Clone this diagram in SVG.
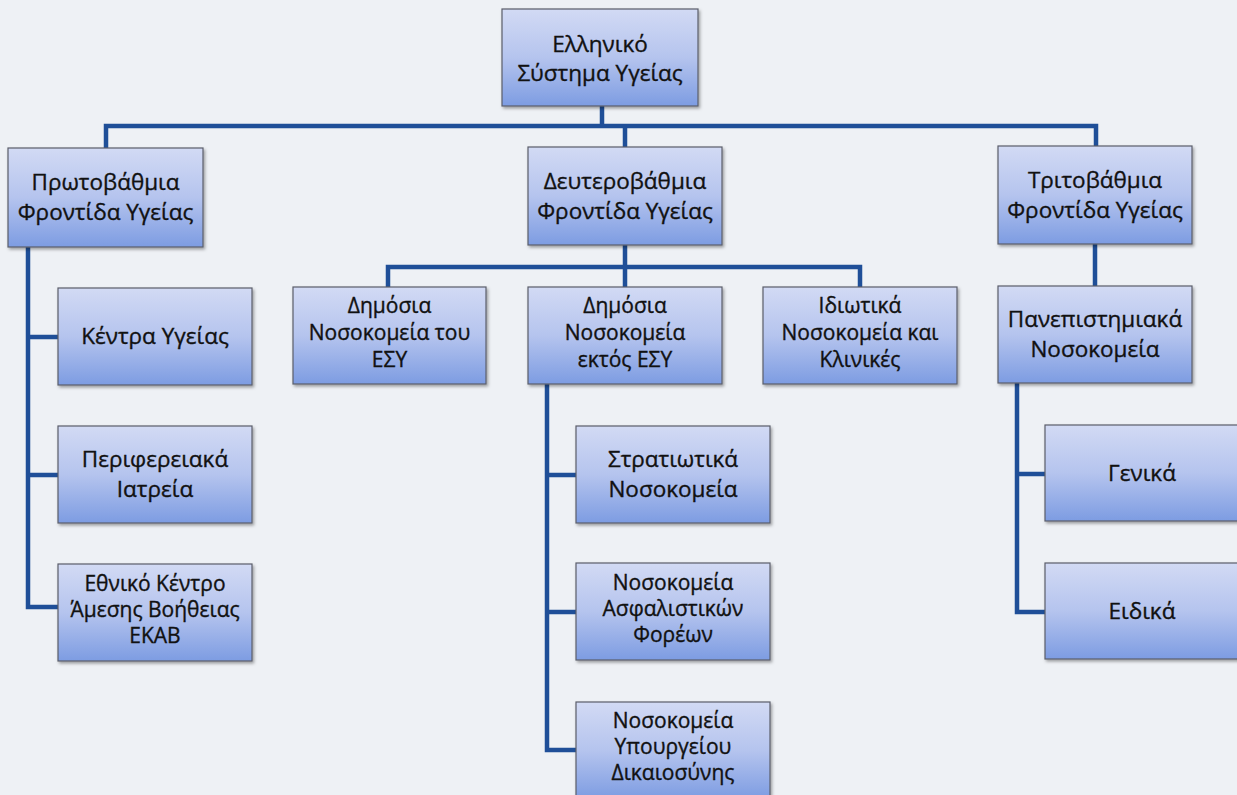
<svg xmlns="http://www.w3.org/2000/svg" width="1237" height="795" viewBox="0 0 1237 795">
<defs>
<linearGradient id="g" x1="0" y1="0" x2="0" y2="1">
<stop offset="0" stop-color="#d2daf4"/>
<stop offset="0.5" stop-color="#b5c4ee"/>
<stop offset="1" stop-color="#7d9ce2"/>
</linearGradient>
<filter id="sh" x="-10%" y="-10%" width="130%" height="130%">
<feDropShadow dx="1.5" dy="2" stdDeviation="1.5" flood-color="#000" flood-opacity="0.35"/>
</filter>
<style>
.box{fill:url(#g);stroke:#5a5e6a;stroke-width:1.2;filter:url(#sh)}
.t{font-family:"Open Sans","Noto Sans",sans-serif;font-size:22.5px;fill:#111;stroke:#111;stroke-width:0.35;text-anchor:middle}
.t3{font-size:21px}
.c{fill:none;stroke:#1f4f98;stroke-width:4.5;stroke-linecap:square}
</style>
</defs>
<rect width="1237" height="795" fill="#eef1f5"/>
<g id="connectors">
<path class="c" d="M602 106V126M106 126H1096M106 126V148M625 126V147M1096 126V146"/>
<path class="c" d="M28 247V607M28 337H58M28 475H58M28 607H58"/>
<path class="c" d="M625 245V267M388 267H860M388 267V287M860 267V287M625 267V287"/>
<path class="c" d="M547 384V750M547 475H576M547 612H576M547 750H576"/>
<path class="c" d="M1095 244V286M1017 383V612M1017 474H1045M1017 612H1045"/>
</g>
<g id="root"><rect class="box" x="502" y="9" width="196" height="97"/>
<text class="t" x="600" y="52">Ελληνικό</text><text class="t" x="600" y="81">Σύστημα Υγείας</text></g>
<g id="primary"><rect class="box" x="8" y="148" width="195" height="99"/>
<text class="t" x="105.5" y="190">Πρωτοβάθμια</text><text class="t" x="105.5" y="220">Φροντίδα Υγείας</text></g>
<g id="secondary"><rect class="box" x="528" y="147" width="194" height="98"/>
<text class="t" x="625" y="189">Δευτεροβάθμια</text><text class="t" x="625" y="219">Φροντίδα Υγείας</text></g>
<g id="tertiary"><rect class="box" x="998" y="146" width="194" height="98"/>
<text class="t" x="1095" y="188">Τριτοβάθμια</text><text class="t" x="1095" y="218">Φροντίδα Υγείας</text></g>
<g id="kentra"><rect class="box" x="58" y="288" width="194" height="97"/>
<text class="t" x="155" y="344">Κέντρα Υγείας</text></g>
<g id="periph"><rect class="box" x="58" y="426" width="194" height="97"/>
<text class="t" x="155" y="467">Περιφερειακά</text><text class="t" x="155" y="497">Ιατρεία</text></g>
<g id="ekav"><rect class="box" x="58" y="564" width="194" height="97"/>
<text class="t t3" x="155" y="591">Εθνικό Κέντρο</text><text class="t t3" x="155" y="617">Άμεσης Βοήθειας</text><text class="t t3" x="155" y="643">ΕΚΑΒ</text></g>
<g id="dimosia-esy"><rect class="box" x="293" y="287" width="193" height="97"/>
<text class="t t3" x="389.5" y="313">Δημόσια</text><text class="t t3" x="389.5" y="340">Νοσοκομεία του</text><text class="t t3" x="389.5" y="367">ΕΣΥ</text></g>
<g id="dimosia-ektos"><rect class="box" x="528" y="287" width="194" height="97"/>
<text class="t t3" x="625" y="313">Δημόσια</text><text class="t t3" x="625" y="340">Νοσοκομεία</text><text class="t t3" x="625" y="367">εκτός ΕΣΥ</text></g>
<g id="idiotika"><rect class="box" x="763" y="287" width="194" height="97"/>
<text class="t t3" x="860" y="313">Ιδιωτικά</text><text class="t t3" x="860" y="340">Νοσοκομεία και</text><text class="t t3" x="860" y="367">Κλινικές</text></g>
<g id="panepistimiaka"><rect class="box" x="998" y="286" width="194" height="97"/>
<text class="t" x="1095" y="327">Πανεπιστημιακά</text><text class="t" x="1095" y="357">Νοσοκομεία</text></g>
<g id="stratiotika"><rect class="box" x="576" y="426" width="194" height="97"/>
<text class="t" x="673" y="467">Στρατιωτικά</text><text class="t" x="673" y="497">Νοσοκομεία</text></g>
<g id="asfalistikon"><rect class="box" x="576" y="563" width="194" height="97"/>
<text class="t t3" x="673" y="590">Νοσοκομεία</text><text class="t t3" x="673" y="616">Ασφαλιστικών</text><text class="t t3" x="673" y="642">Φορέων</text></g>
<g id="ypourgeiou"><rect class="box" x="576" y="702" width="194" height="97"/>
<text class="t t3" x="673" y="728">Νοσοκομεία</text><text class="t t3" x="673" y="754">Υπουργείου</text><text class="t t3" x="673" y="780">Δικαιοσύνης</text></g>
<g id="genika"><rect class="box" x="1045" y="425" width="194" height="96"/>
<text class="t" x="1142" y="481">Γενικά</text></g>
<g id="eidika"><rect class="box" x="1045" y="563" width="194" height="96"/>
<text class="t" x="1142" y="619">Ειδικά</text></g>
</svg>
